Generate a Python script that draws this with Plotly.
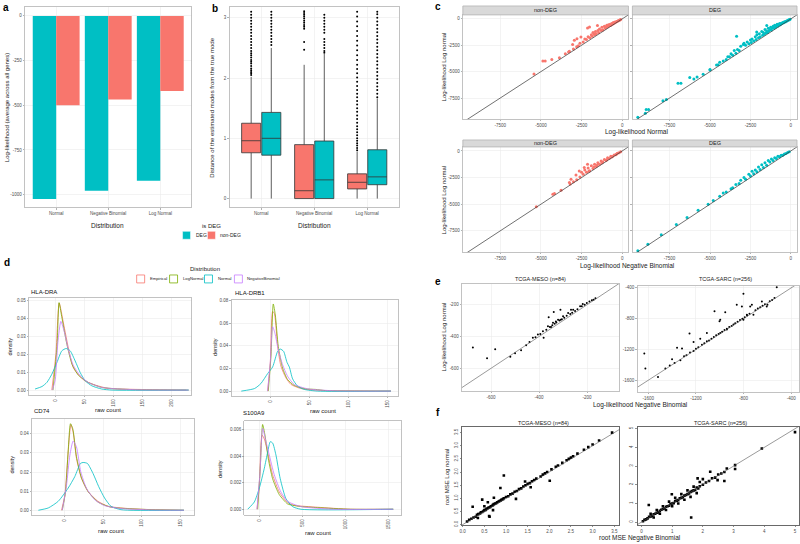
import plotly.graph_objects as go

W, H = 800, 544
TEAL = '#00BFC4'; SALMON = '#F8766D'; GREEN = '#7CAE00'; PURPLE = '#C77CFF'
FONT = 'Liberation Sans, Arial, sans-serif'
TICKC = '#4d4d4d'

# ---------------- data ----------------
# panel a
dist_labels = ['Normal', 'Negative Binomial', 'Log Normal']
ll_deg = [-1025, -978, -922]
ll_nondeg = [-500, -468, -420]

# panel b (box statistics per distribution)
nondeg_q1 = [0.76, 0.0, 0.16]
nondeg_med = [0.96, 0.13, 0.27]
nondeg_q3 = [1.25, 0.895, 0.41]
nondeg_lo = [0.0, 0.0, 0.0]
nondeg_hi = [2.02, 2.22, 0.78]
deg_q1 = [0.72, 0.0, 0.23]
deg_med = [1.0, 0.31, 0.36]
deg_q3 = [1.43, 0.955, 0.81]
deg_lo = [0.0, 0.0, 0.0]
deg_hi = [2.5, 2.4, 1.66]
nondeg_out = [
    [2.05, 2.08, 2.1, 2.13, 2.16, 2.2, 2.24, 2.27, 2.3, 2.34, 2.38, 2.41, 2.45, 2.5, 2.55, 2.6,
     2.65, 2.7, 2.75, 2.8, 2.85, 2.9, 2.95, 3.0, 3.05, 3.1],
    [2.47, 2.6, 2.82, 2.85, 2.88, 2.92, 2.95, 2.99, 3.02, 3.05, 3.08, 3.11],
    [0.8, 0.84, 0.88, 0.92, 0.96, 1.0, 1.05, 1.1, 1.15, 1.2, 1.26, 1.32, 1.38, 1.44, 1.5, 1.56,
     1.62, 1.68, 1.74, 1.8, 1.87, 1.94, 2.01, 2.08, 2.15, 2.22, 2.3, 2.38, 2.46, 2.54, 2.62, 2.7,
     2.78, 2.86, 2.94, 3.02, 3.1],
]
deg_out = [
    [2.55, 2.6, 2.65, 2.7, 2.75, 2.8, 2.85, 2.9, 2.95, 3.0, 3.05, 3.1],
    [2.42, 2.45, 2.5, 2.55, 2.6, 2.65, 2.75, 2.8, 2.85, 2.9, 2.95, 3.0, 3.05],
    [1.68, 1.74, 1.8, 1.86, 1.92, 1.98, 2.04, 2.1, 2.16, 2.22, 2.28, 2.34, 2.4, 2.46, 2.52, 2.58,
     2.64, 2.7, 2.76, 2.82, 2.88, 2.94, 3.0, 3.06, 3.1],
]

# panel c: (log-lik other, log-lik Log normal)
c_nondeg_normal = [(-5427, -5219), (-4878, -4000), (-4736, -4000), (-4329, -3844), (-3862, -3687),
    (-3252, -3062), (-3049, -2437), (-2947, -2031), (-2785, -1875), (-2540, -1719), (-2134, -875),
    (-2012, -781), (-1728, -1406), (-1524, -625), (-3500, -3300), (-3300, -3150), (-3000, -2850),
    (-2800, -2650), (-2700, -2550), (-2600, -2300), (-2400, -2200), (-2300, -1900), (-2200, -1950),
    (-2100, -1700), (-2000, -1800), (-1900, -1500), (-1850, -1650), (-1800, -1300), (-1700, -1500),
    (-1650, -1200), (-1600, -1400), (-1500, -1100), (-1450, -1300), (-1400, -950), (-1300, -1100),
    (-1250, -800), (-1200, -1050), (-1100, -700), (-1050, -900), (-1000, -800), (-950, -600),
    (-900, -750), (-850, -550), (-800, -650), (-750, -500), (-700, -600), (-650, -450), (-600, -500),
    (-550, -350), (-500, -420), (-450, -300), (-400, -330), (-350, -250), (-300, -230), (-250, -180),
    (-200, -150), (-150, -100), (-100, -70)]
c_deg_normal = [(-9465, -9312), (-8948, -8594), (-8800, -8594), (-7912, -7750), (-6980, -6094),
    (-6800, -6094), (-6255, -5562), (-5426, -5250), (-4598, -4375), (-4184, -4000), (-3355, -1656),
    (-2941, -2437), (-2113, -1250), (-1491, -625), (-6000, -5700), (-5800, -5500), (-5000, -4800),
    (-4400, -4100), (-3900, -3600), (-3700, -3300), (-3500, -3000), (-3300, -2900), (-3100, -2600),
    (-2900, -2300), (-2800, -2500), (-2700, -2200), (-2600, -2350), (-2500, -2000), (-2450, -2250),
    (-2400, -1900), (-2300, -2100), (-2200, -1700), (-2150, -1950), (-2100, -1500), (-2000, -1800),
    (-1950, -1400), (-1900, -1700), (-1800, -1200), (-1750, -1550), (-1700, -1300), (-1650, -1450),
    (-1600, -1000), (-1550, -1350), (-1500, -1150), (-1450, -1300), (-1400, -900), (-1350, -1150),
    (-1300, -1000), (-1250, -800), (-1200, -1050), (-1150, -850), (-1100, -700), (-1050, -900),
    (-1000, -600), (-950, -800), (-900, -650), (-850, -500), (-800, -680), (-750, -550), (-700, -450),
    (-650, -550), (-600, -420), (-550, -450), (-500, -350), (-450, -380), (-400, -280), (-350, -300),
    (-300, -220), (-250, -200), (-200, -150), (-150, -110), (-100, -80), (-50, -40), (-3200, -3000),
    (-3400, -3250), (-3600, -3450), (-3800, -3600), (-4000, -3850), (-4500, -4350), (-5000, -4850),
    (-7700, -7650), (-9000, -8950)]
c_nondeg_nb = [(-5285, -5250), (-4268, -4062), (-4167, -4000), (-3760, -3687), (-3252, -2969),
    (-3150, -2656), (-2845, -2250), (-2642, -1875), (-2337, -1562), (-2134, -1250), (-3200, -3100),
    (-3000, -2900), (-2800, -2700), (-2600, -2450), (-2500, -2000), (-2400, -2200), (-2300, -1800),
    (-2200, -2000), (-2100, -1600), (-2050, -1900), (-2000, -1850), (-1900, -1400), (-1800, -1650),
    (-1750, -1500), (-1700, -1250), (-1600, -1450), (-1550, -1350), (-1500, -1100), (-1400, -1250),
    (-1300, -950), (-1250, -1100), (-1200, -1050), (-1100, -800), (-1000, -900), (-950, -820),
    (-900, -650), (-800, -700), (-700, -500), (-650, -560), (-600, -520), (-500, -380), (-400, -350),
    (-350, -290), (-300, -220), (-200, -170), (-100, -80)]
c_deg_nb = [(-9465, -9375), (-8844, -8750), (-8016, -7875), (-7084, -6900), (-6421, -6250),
    (-5737, -5562), (-5116, -5000), (-4800, -4650), (-4400, -4250), (-4184, -3950), (-4000, -3850),
    (-3700, -3550), (-3600, -3450), (-3400, -3150), (-3200, -3050), (-3100, -2750), (-2900, -2500),
    (-2800, -2650), (-2600, -2200), (-2500, -2350), (-2400, -1900), (-2300, -2150), (-2200, -1800),
    (-2100, -1950), (-2000, -1500), (-1900, -1750), (-1800, -1300), (-1700, -1550), (-1600, -1100),
    (-1500, -1350), (-1400, -900), (-1300, -1050), (-1200, -750), (-1100, -900), (-1000, -650),
    (-900, -700), (-800, -500), (-700, -550), (-600, -400), (-500, -400), (-400, -280), (-300, -230),
    (-200, -150), (-100, -70)]
c_range = [-9800, 380]

# panel d: density curves (raw count, density)
dra_emp = [(-7, 0), (0, 0.02), (5.7, 0.0487), (13, 0.0376), (22, 0.0228), (30, 0.0126), (39, 0.0085),
           (50, 0.0052), (68, 0.0028), (91, 0.0009), (137, 0.0004), (225, 0)]
dra_lnorm = [(-5, 0), (2, 0.0246), (5.5, 0.049), (10, 0.0413), (19, 0.0256), (28, 0.0144), (39, 0.0083),
             (56, 0.0043), (79, 0.0015), (137, 0.0002), (229, 0)]
dra_norm = [(-36, 0.0006), (-24, 0.002), (-15.5, 0.0043), (-7, 0.0089), (1.7, 0.0154), (10.3, 0.022),
            (17.8, 0.0233), (24.7, 0.022), (33.3, 0.0163), (42, 0.0098), (50.6, 0.0052), (62, 0.0024),
            (79, 0.0006), (97, 0.0), (229, 0)]
dra_nb = [(-6, 0), (-1, 0.006), (3.4, 0.0265), (8.6, 0.0385), (15, 0.032), (22, 0.0219), (30, 0.0139),
          (42, 0.008), (56, 0.0043), (79, 0.0015), (137, 0.0002), (229, 0)]
drb1_emp = [(-3.4, 0), (0, 0.025), (3, 0.0703), (5.1, 0.069), (9.4, 0.0396), (13.6, 0.022), (20, 0.0117),
            (26.4, 0.0059), (39, 0.0023), (56, 0.0009), (82, 0.0003), (154, 0)]
drb1_lnorm = [(-2.6, 0), (0.9, 0.031), (3.8, 0.0771), (6.4, 0.0674), (10.2, 0.0396), (15.7, 0.0205),
              (22, 0.0103), (30.6, 0.005), (45, 0.002), (58, 0.0015), (70, 0.0005), (154, 0)]
drb1_norm = [(-37, 0), (-20, 0.0023), (-12, 0.0067), (-3.4, 0.0155), (3, 0.0214), (9.4, 0.0352),
             (12.8, 0.0372), (17, 0.0352), (21.3, 0.0255), (24.3, 0.0214), (28.5, 0.0108), (34.9, 0.0044),
             (43.4, 0.0015), (60, 0), (154, 0)]
drb1_nb = [(-3.4, 0), (0, 0.025), (3, 0.057), (6, 0.051), (10.2, 0.0366), (15.7, 0.0234), (22, 0.0132),
           (30.6, 0.0059), (47.7, 0.002), (82, 0.0003), (154, 0)]
cd74_emp = [(-4.3, 0), (0, 0.008), (4.3, 0.0305), (7.8, 0.0448), (10.8, 0.0409), (15.1, 0.0271),
            (21.6, 0.0167), (30.2, 0.0098), (43, 0.0047), (56, 0.0021), (82, 0.0009), (112, 0.0003), (155, 0)]
cd74_lnorm = [(-3.4, 0), (0.9, 0.0098), (4.3, 0.031), (7.3, 0.0453), (10.3, 0.0426), (15.1, 0.028),
              (21.6, 0.017), (30.2, 0.0098), (43, 0.0043), (60, 0.0016), (99, 0.0005), (155, 0)]
cd74_norm = [(-34.5, 0), (-21.6, 0.0012), (-8.6, 0.0047), (4.3, 0.0116), (12.9, 0.0176), (20.3, 0.0245),
             (23.7, 0.025), (29.3, 0.0245), (36.6, 0.0193), (44, 0.0124), (51.7, 0.0064), (60, 0.0021),
             (73, 0.0003), (155, 0)]
cd74_nb = [(-3.4, 0), (2.2, 0.0133), (6.5, 0.0288), (10.8, 0.0362), (15.1, 0.0331), (20.7, 0.0202),
           (28, 0.0116), (38.8, 0.0055), (51.7, 0.0024), (73, 0.0009), (112, 0.0002), (155, 0)]
s100_emp = [(-27, 0), (0, 0.0018), (31, 0.0056), (58, 0.0053), (96, 0.0043), (154, 0.0026), (231, 0.0013),
            (327, 0.0005), (404, 0.0003), (673, 0.00015), (1058, 0), (1550, 0)]
s100_lnorm = [(-19, 0), (12, 0.0033), (38, 0.0064), (65, 0.0056), (104, 0.0038), (154, 0.0023),
              (231, 0.0011), (327, 0.0004), (385, 0.0003), (481, 0.0002), (673, 0.00012), (1058, 0), (1550, 0)]
s100_norm = [(-135, 0), (-58, 0.00055), (0, 0.0016), (58, 0.0031), (96, 0.0043), (127, 0.0051),
             (154, 0.005), (192, 0.0041), (242, 0.0023), (308, 0.0008), (385, 0.0002), (481, 0), (1550, 0)]
s100_nb = [(-27, 0), (8, 0.0028), (38, 0.0061), (77, 0.0051), (115, 0.0041), (173, 0.0026), (250, 0.0013),
           (327, 0.0006), (481, 0.0002), (865, 0), (1550, 0)]
dist_names = ['Empirical', 'LogNormal', 'Normal', 'NegativeBinomial']

# panel e: (NB log-lik, LogNormal log-lik)
e_meso = [(-676, -469), (-617, -537), (-583, -481), (-520, -528), (-500, -505), (-475, -487), (-454, -456),
    (-440, -435), (-426, -408), (-415, -405), (-405, -388), (-395, -385), (-381, -408), (-384, -367),
    (-370, -358), (-363, -336), (-355, -340), (-350, -340), (-345, -330), (-342, -314), (-335, -320),
    (-330, -305), (-328, -312), (-321, -294), (-315, -300), (-310, -295), (-305, -292), (-300, -273),
    (-295, -282), (-285, -270), (-279, -252), (-270, -258), (-262, -250), (-258, -231), (-250, -240),
    (-240, -228), (-229, -210), (-222, -210), (-210, -200), (-201, -189), (-190, -180), (-180, -172),
    (-173, -169), (-165, -160), (-360, -279), (-339, -246), (-311, -231), (-267, -231), (-218, -196)]
e_sarc = [(-1634, -1252), (-1625, -1449), (-1519, -1557), (-1401, -1329), (-1359, -1178), (-1317, -1187),
    (-1254, -994), (-1220, -1105), (-1164, -1062), (-1108, -985), (-1044, -705), (-996, -813), (-954, -718),
    (-1002, -834), (-940, -942), (-801, -477), (-744, -641), (-730, -619), (-646, -576), (-599, -619),
    (-521, -391), (-772, -748), (-857, -619), (-814, -641), (-1457, -1449), (-1420, -1410), (-1380, -1375),
    (-1331, -1340), (-1300, -1290), (-1280, -1275), (-1250, -1240), (-1220, -1222), (-1200, -1190),
    (-1180, -1172), (-1150, -1140), (-1130, -1120), (-1108, -1093), (-1090, -1085), (-1070, -1060),
    (-1050, -1040), (-1030, -1015), (-1010, -1000), (-996, -985), (-980, -970), (-960, -948), (-940, -930),
    (-920, -910), (-900, -895), (-885, -877), (-870, -860), (-850, -840), (-830, -818), (-810, -800),
    (-801, -813), (-790, -780), (-770, -760), (-750, -735), (-717, -748), (-700, -690), (-680, -668),
    (-660, -650), (-640, -632), (-620, -612), (-605, -641), (-580, -575), (-560, -556), (-540, -530)]

# panel f: (root MSE NB, root MSE LogNormal)
f_meso = [(0.1, 0.12), (0.15, 0.18), (0.2, 0.22), (0.25, 0.27), (0.3, 0.3), (0.33, 0.37), (0.36, 0.4),
    (0.4, 0.42), (0.42, 0.47), (0.45, 0.48), (0.48, 0.52), (0.5, 0.55), (0.53, 0.56), (0.55, 0.6),
    (0.58, 0.62), (0.6, 0.65), (0.63, 0.66), (0.65, 0.7), (0.68, 0.72), (0.7, 0.75), (0.72, 0.78),
    (0.75, 0.8), (0.78, 0.82), (0.8, 0.85), (0.83, 0.88), (0.85, 0.9), (0.88, 0.92), (0.9, 0.95),
    (0.93, 0.97), (0.95, 1.0), (1.0, 1.05), (1.05, 1.08), (1.1, 1.15), (1.15, 1.18), (1.2, 1.25),
    (1.25, 1.28), (1.3, 1.35), (1.35, 1.38), (1.4, 1.45), (1.45, 1.5), (1.5, 1.55), (1.55, 1.58),
    (1.6, 1.65), (1.65, 1.7), (1.7, 1.75), (1.8, 1.83), (1.85, 1.9), (1.9, 1.95), (1.95, 2.0),
    (2.05, 2.1), (2.15, 2.2), (2.2, 2.25), (2.3, 2.35), (2.4, 2.45), (2.45, 2.5), (2.5, 2.55),
    (2.55, 2.6), (2.65, 2.7), (2.8, 2.85), (2.9, 2.95), (3.0, 3.05), (3.15, 3.2), (3.45, 3.5),
    (0.95, 1.87), (0.87, 1.39), (0.62, 0.3), (1.23, 0.98), (1.57, 1.42), (2.01, 1.67), (1.44, 1.64),
    (0.72, 1.02), (0.23, 0.68), (0.45, 0.95), (0.61, 0.33), (0.5, 0.7), (0.58, 0.85), (0.35, 0.25),
    (0.7, 0.55)]
f_sarc = [(0.05, 0.05), (0.1, 0.12), (0.15, 0.15), (0.2, 0.2), (0.25, 0.28), (0.3, 0.3), (0.35, 0.33),
    (0.4, 0.42), (0.45, 0.45), (0.5, 0.5), (0.55, 0.52), (0.6, 0.6), (0.65, 0.66), (0.7, 0.7), (0.75, 0.73),
    (0.8, 0.82), (0.85, 0.85), (0.9, 0.88), (0.95, 0.97), (1.0, 1.0), (1.05, 1.02), (1.1, 1.12),
    (1.15, 1.15), (1.2, 1.18), (1.25, 1.28), (1.3, 1.3), (1.35, 1.33), (1.4, 1.42), (1.45, 1.45),
    (1.5, 1.5), (1.55, 1.53), (1.6, 1.62), (1.65, 1.66), (1.7, 1.7), (1.75, 1.72), (1.8, 1.85),
    (1.85, 1.8), (1.9, 1.92), (2.0, 2.0), (2.1, 2.12), (2.2, 2.2), (2.3, 2.35), (2.4, 2.38), (2.5, 2.55),
    (2.6, 2.6), (2.7, 2.68), (0.3, 0.45), (0.4, 0.25), (0.5, 0.65), (0.6, 0.45), (0.7, 0.85), (0.8, 0.65),
    (0.9, 1.1), (1.0, 0.85), (1.1, 1.3), (1.2, 1.0), (1.3, 1.5), (1.4, 1.2), (1.5, 1.7), (1.6, 1.35),
    (1.7, 1.9), (1.8, 1.55), (1.9, 2.15), (5.0, 4.82), (3.92, 3.94), (3.05, 3.05), (3.05, 2.84),
    (2.78, 2.87), (2.48, 2.25), (2.24, 2.7), (1.83, 2.34), (0.24, 0.92), (1.62, 0.25), (0.99, 1.49),
    (2.7, 2.2), (2.0, 2.3)]

# ---------------- figure ----------------
fig = go.Figure()
layout = dict(width=W, height=H, margin=dict(l=0, r=0, t=0, b=0), autosize=False,
              paper_bgcolor='white', plot_bgcolor='white', showlegend=False,
              font=dict(family=FONT, size=6, color='#222'), barmode='group', bargap=0.1,
              bargroupgap=0)
annotations = []
shapes = []


def ax_names(i):
    return ('x' if i == 1 else f'x{i}', 'y' if i == 1 else f'y{i}',
            'xaxis' if i == 1 else f'xaxis{i}', 'yaxis' if i == 1 else f'yaxis{i}')


def add_axes(i, x0, x1, y0, y1, xr, yr, xtv, xtt, ytv, ytt, grid=True, xangle=0, yangle=0,
             showyt=True, line='#b3b3b3', xtype='linear', tickc='#7f7f7f'):
    xa, ya, xn, yn = ax_names(i)
    common = dict(showline=True, mirror=True, linecolor=line, linewidth=0.8, zeroline=False,
                  ticks='outside', ticklen=1.5, tickwidth=0.6, tickcolor=tickc,
                  tickfont=dict(size=4.5, color=TICKC, family=FONT), showgrid=grid,
                  gridcolor='#ebebeb', gridwidth=0.6, fixedrange=True)
    layout[xn] = dict(common, domain=[x0 / W, x1 / W], range=xr, anchor=ya, tickvals=xtv,
                      ticktext=xtt, tickangle=xangle, type=xtype)
    layout[yn] = dict(common, domain=[1 - y1 / H, 1 - y0 / H], range=yr, anchor=xa, tickvals=ytv,
                      ticktext=ytt if showyt else [''] * len(ytv), tickangle=yangle)
    return xa, ya


def text(x, y, s, size=6.5, angle=0, bold=False, color='#222', xanchor='center'):
    annotations.append(dict(x=x / W, y=1 - y / H, xref='paper', yref='paper', text=f'<b>{s}</b>' if bold else s,
                            showarrow=False, textangle=angle, xanchor=xanchor, yanchor='middle',
                            font=dict(size=size, color=color, family=FONT)))


def rect(x0, y0, x1, y1, fill, line, lw=0.8):
    shapes.append(dict(type='rect', xref='paper', yref='paper', x0=x0 / W, x1=x1 / W, y0=1 - y1 / H,
                       y1=1 - y0 / H, fillcolor=fill, line=dict(color=line, width=lw), layer='above'))


# ---- panel a ----
xa, ya = add_axes(1, 23, 190, 5, 207, [-0.6, 2.6], [-1072, 50], None, None,
                  [0, -250, -500, -750, -1000], ['0', '-250', '-500', '-750', '-1000'], xtype='category')
fig.add_bar(x=dist_labels, y=ll_deg, marker=dict(color=TEAL, line=dict(width=0)), name='DEG',
            xaxis=xa, yaxis=ya, offsetgroup='deg')
fig.add_bar(x=dist_labels, y=ll_nondeg, marker=dict(color=SALMON, line=dict(width=0)), name='non-DEG',
            xaxis=xa, yaxis=ya, offsetgroup='nondeg')
text(106, 225, 'Distribution', 6.5)
text(5, 106, 'Log-likelihood (average across all genes)', 6, angle=-90)

# ---- panel b ----
xb, yb = add_axes(2, 228, 398, 5, 207, [0.4, 3.6], [-0.148, 3.18], [1, 2, 3], dist_labels,
                  [0, 1, 2, 3], ['0', '1', '2', '3'])
for k in range(3):
    for off, q1, med, q3, lo, hi, outs, col in [
            (-0.19, nondeg_q1, nondeg_med, nondeg_q3, nondeg_lo, nondeg_hi, nondeg_out, SALMON),
            (0.19, deg_q1, deg_med, deg_q3, deg_lo, deg_hi, deg_out, TEAL)]:
        pos = k + 1 + off
        fig.add_trace(go.Box(x=[pos], q1=[q1[k]], median=[med[k]], q3=[q3[k]], lowerfence=[lo[k]],
                             upperfence=[hi[k]], width=0.36, fillcolor=col, whiskerwidth=0,
                             line=dict(color='#333333', width=0.8), boxpoints=False,
                             xaxis=xb, yaxis=yb))
        fig.add_scatter(x=[pos] * len(outs[k]), y=outs[k], mode='markers',
                        marker=dict(color='black', size=2), xaxis=xb, yaxis=yb)
text(313, 225, 'Distribution', 6.5)
text(211, 106, 'Distance of the estimated modes from the true mode', 6, angle=-90)

# legend a/b
text(210, 226, 'is DEG', 6)
rect(181, 231, 189, 239, TEAL, 'white', 0.5)
text(192, 235, 'DEG', 5, xanchor='left')
rect(206, 231, 214, 239, SALMON, 'white', 0.5)
text(217, 235, 'non-DEG', 5, xanchor='left')

# ---- panel c ----
c_ticks = [-7500, -5000, -2500, 0]
c_tt = ['-7500', '-5000', '-2500', '0']
c_specs = [
    (3, 462, 628, 13, 118, c_nondeg_normal, SALMON, True, 'non-DEG', 4),
    (4, 632, 797, 13, 118, c_deg_normal, TEAL, False, 'DEG', 4),
    (5, 462, 628, 146, 252, c_nondeg_nb, SALMON, True, 'non-DEG', 139),
    (6, 632, 797, 146, 252, c_deg_nb, TEAL, False, 'DEG', 139),
]
for i, x0, x1, y0, y1, pts, col, showy, strip, sy in c_specs:
    xa_, ya_ = add_axes(i, x0, x1, y0, y1, c_range, [-9500, 375], c_ticks, c_tt,
                        c_ticks[::-1], c_tt[::-1], showyt=showy)
    fig.add_scatter(x=[p[0] for p in pts], y=[p[1] for p in pts], mode='markers',
                    marker=dict(color=col, size=3), xaxis=xa_, yaxis=ya_)
    fig.add_scatter(x=c_range, y=c_range, mode='lines', line=dict(color='#333', width=0.7),
                    xaxis=xa_, yaxis=ya_)
    rect(x0, sy, x1, y0, '#d9d9d9', '#b3b3b3', 0.8)
    text((x0 + x1) / 2, (sy + y0) / 2, strip, 5.5, color='#1a1a1a')
text(636, 131, 'Log-likelihood Normal', 6.5)
text(627, 266, 'Log-likelihood Negative Binomial', 6.5)
text(443, 65, 'Log-likelihood Log normal', 6, angle=-90)
text(443, 199, 'Log-likelihood Log normal', 6, angle=-90)

# ---- panel d ----
d_specs = [
    (7, 27, 190, 298, 396, [-46.5, 234], [-0.0028, 0.0517], [0, 50, 100, 150, 200],
     [0, 0.01, 0.02, 0.03, 0.04, 0.05], ['0.00', '0.01', '0.02', '0.03', '0.04', '0.05'],
     [dra_emp, dra_lnorm, dra_norm, dra_nb], 'HLA-DRA', 27, 292, 8, 347, 106, 411),
    (8, 230, 397, 300, 397, [-49.6, 163], [-0.0044, 0.0808], [0, 50, 100, 150],
     [0, 0.02, 0.04, 0.06, 0.08], ['0.00', '0.02', '0.04', '0.06', '0.08'],
     [drb1_emp, drb1_lnorm, drb1_norm, drb1_nb], 'HLA-DRB1', 232, 293, 214, 347, 322, 412),
    (9, 30, 193, 420, 517, [-42.9, 168.8], [-0.0026, 0.0478], [0, 50, 100, 150],
     [0, 0.01, 0.02, 0.03, 0.04], ['0.00', '0.01', '0.02', '0.03', '0.04'],
     [cd74_emp, cd74_lnorm, cd74_norm, cd74_nb], 'CD74', 30, 412, 10, 466, 109, 533),
    (10, 243, 400, 422, 517, [-173, 1640], [-0.00045, 0.00667], [0, 500, 1000, 1500],
     [0, 0.002, 0.004, 0.006], ['0.000', '0.002', '0.004', '0.006'],
     [s100_emp, s100_lnorm, s100_norm, s100_nb], 'S100A9', 240, 414, 218, 470, 317, 535),
]
d_colors = [SALMON, GREEN, TEAL, PURPLE]
for (i, x0, x1, y0, y1, xr, yr, xtv, ytv, ytt, curves, title, tx, ty, dyx, dyy, rcx, rcy) in d_specs:
    xa_, ya_ = add_axes(i, x0, x1, y0, y1, xr, yr, xtv, [str(v) for v in xtv], ytv, ytt, xangle=-90)
    for curve, col in zip(curves, d_colors):
        fig.add_scatter(x=[p[0] for p in curve], y=[p[1] for p in curve], mode='lines',
                        line=dict(color=col, width=0.8, shape='spline', smoothing=0.6),
                        xaxis=xa_, yaxis=ya_)
    text(tx, ty, title, 6, xanchor='left', color='#111')
    text(dyx, dyy, 'density', 5.5, angle=-90)
    text(rcx, rcy, 'raw count', 6)

# legend d
text(204, 269, 'Distribution', 6)
for (kx, tx), name, col in zip([(135, 146), (168, 179), (203, 215), (233, 244)], dist_names, d_colors):
    rect(kx, 275, kx + 8, 283, 'white', col, 0.8)
    text(tx, 279, name, 4.2, xanchor='left')

# ---- panel e ----
xa_, ya_ = add_axes(11, 461, 619, 284, 392, [-722, -65], [-744, -69], [-600, -400, -200],
                    ['-600', '-400', '-200'], [-600, -400, -200], ['-600', '-400', '-200'])
fig.add_scatter(x=[p[0] for p in e_meso], y=[p[1] for p in e_meso], mode='markers',
                marker=dict(color='black', size=2), xaxis=xa_, yaxis=ya_)
fig.add_scatter(x=[-800, 0], y=[-800, 0], mode='lines', line=dict(color='#555', width=0.6),
                xaxis=xa_, yaxis=ya_)
xa_, ya_ = add_axes(12, 637, 799, 286, 393, [-1692, -334], [-1755, -374], [-1600, -1200, -800, -400],
                    ['-1600', '-1200', '-800', '-400'], [-1600, -1200, -800, -400],
                    ['-1600', '-1200', '-800', '-400'])
fig.add_scatter(x=[p[0] for p in e_sarc], y=[p[1] for p in e_sarc], mode='markers',
                marker=dict(color='black', size=2), xaxis=xa_, yaxis=ya_)
fig.add_scatter(x=[-1800, -300], y=[-1800, -300], mode='lines', line=dict(color='#555', width=0.6),
                xaxis=xa_, yaxis=ya_)
text(540, 279, 'TCGA-MESO (n=84)', 5.5)
text(725, 279, 'TCGA-SARC (n=256)', 5.5)
text(640, 406, 'Log-likelihood Negative Binomial', 6.5)
text(443, 337, 'Log-likelihood Log normal', 6, angle=-90)

# ---- panel f ----
fm_t = [0, 0.5, 1.0, 1.5, 2.0, 2.5, 3.0, 3.5]
fm_tt = ['0.0', '0.5', '1.0', '1.5', '2.0', '2.5', '3.0', '3.5']
xa_, ya_ = add_axes(13, 461, 619, 428, 527, [-0.02, 3.62], [-0.02, 3.72], fm_t, fm_tt, fm_t, fm_tt,
                    grid=False, yangle=-90, line='#444', tickc='#444')
fig.add_scatter(x=[p[0] for p in f_meso], y=[p[1] for p in f_meso], mode='markers',
                marker=dict(color='black', size=2.6, symbol='square'), xaxis=xa_, yaxis=ya_)
fig.add_scatter(x=[-0.1, 4], y=[-0.1, 4], mode='lines', line=dict(color='#555', width=0.6),
                xaxis=xa_, yaxis=ya_)
fs_t = [0, 1, 2, 3, 4, 5]
xa_, ya_ = add_axes(14, 637, 799, 428, 527, [-0.13, 5.13], [-0.16, 5.1], fs_t, [str(v) for v in fs_t],
                    fs_t, [str(v) for v in fs_t], grid=False, yangle=-90, line='#444', tickc='#444')
fig.add_scatter(x=[p[0] for p in f_sarc], y=[p[1] for p in f_sarc], mode='markers',
                marker=dict(color='black', size=2.6, symbol='square'), xaxis=xa_, yaxis=ya_)
fig.add_scatter(x=[-0.2, 5.3], y=[-0.2, 5.3], mode='lines', line=dict(color='#555', width=0.6),
                xaxis=xa_, yaxis=ya_)
text(543, 424, 'TCGA-MESO (n=84)', 5.5)
text(720, 424, 'TCGA-SARC (n=256)', 5.5)
text(640, 540, 'root MSE Negative Binomial', 6.5)
text(447, 478, 'root MSE Log normal', 6, angle=-90)

# panel letters
for lx, ly, l in [(4, 6, 'a'), (214, 7, 'b'), (437, 5, 'c'), (5, 262, 'd'), (437, 282, 'e'), (437, 414, 'f')]:
    text(lx, ly, l, 10, bold=True, color='black')

layout['annotations'] = annotations
layout['shapes'] = shapes
fig.update_layout(**layout)
fig.write_html('out.html', config={'displayModeBar': False, 'staticPlot': True},
               post_script="document.body.style.margin='0';document.body.style.padding='0';"
                           "document.documentElement.style.overflow='hidden';")
